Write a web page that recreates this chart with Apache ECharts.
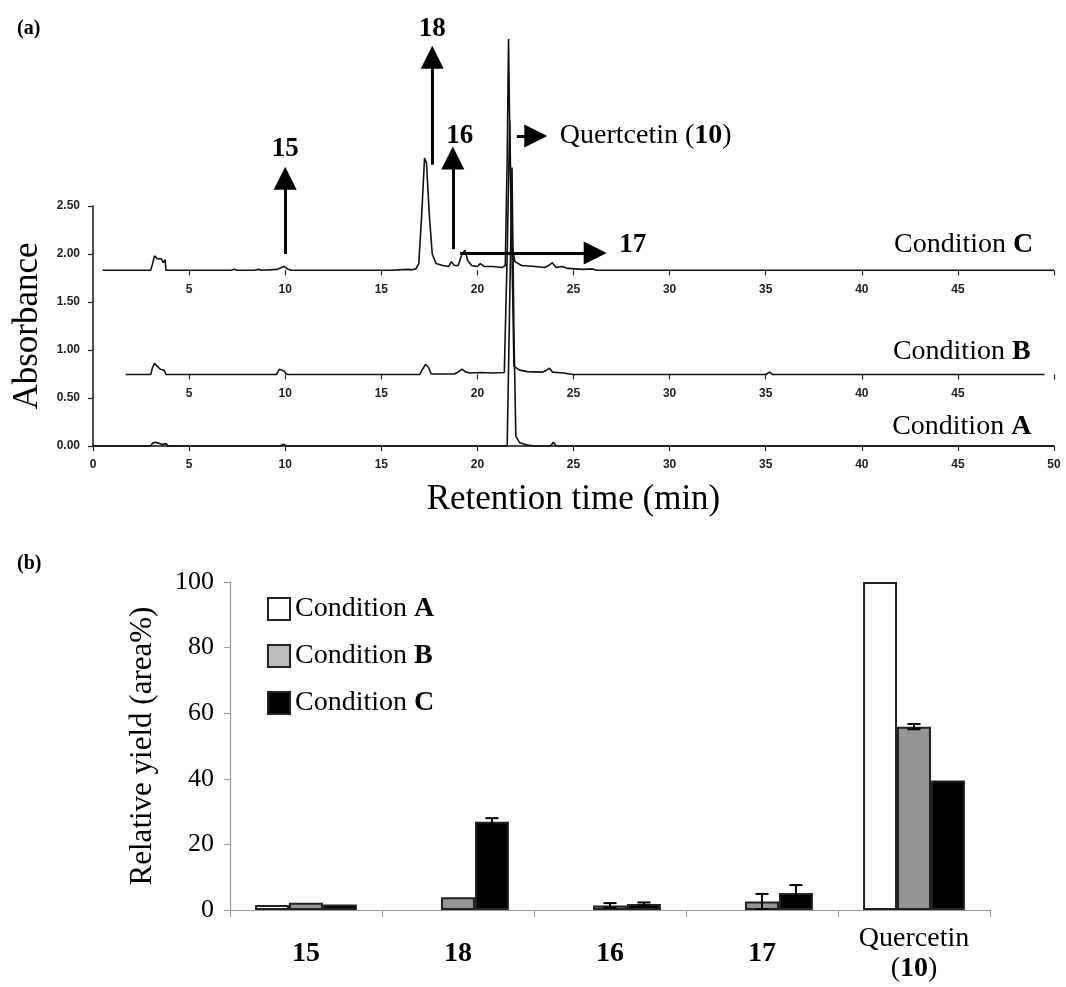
<!DOCTYPE html>
<html>
<head>
<meta charset="utf-8">
<title>Chromatograms and relative yields</title>
<script src="https://cdn.jsdelivr.net/npm/echarts@6/dist/echarts.min.js"></script>
<style>
    html, body { margin: 0; padding: 0; background: #fff; }
    #main { width: 1066px; height: 987px; }
</style>
</head>
<body>
<div id="main"></div>
<script>
// (a) HPLC traces, [retention time (min), absorbance]
var traceA = [[0, 0], [2.2, 0], [2.3, 0.015], [2.4, 0], [3.0, 0], [3.1, 0.03], [3.25, 0.04], [3.4, 0.03], [3.6, 0.015],
    [3.8, 0.025], [3.9, 0], [9.75, 0], [9.9, 0.018], [10.05, 0], [20.5, 0], [20.6, 0.01], [20.7, 0], [21.55, 0],
    [21.68, 1.5], [21.8, 2.9], [21.9, 1.2], [22.0, 0.1], [22.2, 0.035], [22.6, 0.01], [23.0, 0], [23.8, 0],
    [23.95, 0.04], [24.1, 0], [27.3, 0], [27.4, 0.008], [27.5, 0], [29.2, 0], [29.3, 0.008], [29.4, 0], [30.5, 0],
    [30.6, 0.008], [30.8, 0], [32.4, 0], [32.5, 0.006], [32.6, 0], [50, 0]];
var traceB = [[1.7, 0.745], [3.0, 0.745], [3.1, 0.82], [3.2, 0.86], [3.35, 0.83], [3.5, 0.8], [3.6, 0.81], [3.7, 0.79],
    [3.75, 0.8], [3.8, 0.745], [8.4, 0.745], [8.5, 0.755], [8.6, 0.745], [9.55, 0.745], [9.7, 0.8], [9.8, 0.815],
    [9.95, 0.78], [10.05, 0.75], [10.2, 0.745], [17.0, 0.745], [17.15, 0.8], [17.3, 0.85], [17.45, 0.82], [17.6, 0.75],
    [18.8, 0.75], [19.0, 0.77], [19.2, 0.8], [19.4, 0.77], [19.6, 0.76], [20.2, 0.765], [20.8, 0.76], [21.4, 0.765],
    [21.55, 2.0], [21.68, 3.39], [21.8, 2.0], [21.9, 0.83], [22.2, 0.79], [22.6, 0.775], [23.4, 0.77], [23.6, 0.79],
    [23.75, 0.81], [23.9, 0.77], [24.5, 0.76], [24.8, 0.75], [25, 0.745], [32.7, 0.745], [32.8, 0.75], [32.9, 0.745],
    [35.0, 0.745], [35.2, 0.77], [35.35, 0.745], [36.2, 0.745], [36.3, 0.755], [36.4, 0.745], [39.4, 0.745],
    [39.5, 0.755], [39.6, 0.745], [49.5, 0.745]];
var traceC = [[0.5, 1.83], [3.0, 1.83], [3.1, 1.9], [3.2, 1.98], [3.35, 1.95], [3.45, 1.93], [3.55, 1.95], [3.65, 1.91],
    [3.75, 1.94], [3.8, 1.83], [7.2, 1.83], [7.35, 1.84], [7.5, 1.83], [8.4, 1.83], [8.6, 1.84], [8.8, 1.83],
    [9.6, 1.84], [9.8, 1.86], [9.95, 1.87], [10.15, 1.84], [10.3, 1.83], [10.9, 1.83], [11.0, 1.84], [11.1, 1.83],
    [15.5, 1.83], [15.6, 1.84], [16.4, 1.84], [16.6, 1.835], [16.8, 1.845], [16.95, 1.9], [17.1, 2.4], [17.25, 3.0],
    [17.35, 2.95], [17.5, 2.4], [17.65, 2.0], [17.85, 1.9], [18.2, 1.88], [18.5, 1.87], [18.65, 1.92], [18.8, 1.88],
    [19.0, 1.88], [19.2, 2.0], [19.35, 2.04], [19.5, 1.93], [19.7, 1.88], [20.0, 1.87], [20.15, 1.9], [20.35, 1.87],
    [20.8, 1.87], [21.3, 1.86], [21.45, 1.88], [21.55, 3.0], [21.62, 4.24], [21.7, 3.0], [21.8, 2.1], [21.95, 1.92],
    [22.3, 1.88], [23.0, 1.87], [23.5, 1.86], [23.7, 1.88], [23.9, 1.91], [24.1, 1.86], [24.4, 1.87], [24.7, 1.85],
    [25.5, 1.84], [26.0, 1.845], [26.2, 1.83], [30.6, 1.83], [30.7, 1.84], [30.8, 1.83], [50, 1.83]];

// baselines of the stacked traces (absorbance units)
var baseB = 0.745;
var baseC = 1.83;

// peak assignment arrows [time, absorbance]
var arrowNames = ['15', '18', '16', 'Quertcetin ({b|10})', '17'];
var arrowFrom = [[10, 2.0], [17.65, 2.93], [18.72, 2.05], [22.05, 3.23], [19.1, 2.01]];
var arrowTo = [[10, 2.79], [17.65, 4.05], [18.72, 3.0], [23.04, 3.23], [26.13, 2.01]];

// (b) relative yield (area%), null = no bar
var compounds = ['15', '18', '16', '17', 'Quercetin (10)'];
var yieldA = [1.5, null, null, null, 100];
var yieldB = [2.2, 3.9, 1.4, 2.6, 55.9];
var yieldC = [1.7, 26.9, 1.8, 5.2, 39.5];
var errB = [0, 0, 0.7, 2.3, 0.8];
var errC = [0, 1.1, 0.5, 2.4, 0];

var SERIF = '"Liberation Serif", "Times New Roman", serif';
var SANS = '"Liberation Sans", Arial, sans-serif';
var GAP = 0.33;
var PX_PER_ABS = 240 / 2.5;

var myChart = echarts.init(document.getElementById('main'));

function subAxis(offset) {
    return {
        type: 'value', gridIndex: 0, position: 'bottom', offset: offset,
        min: 0, max: 50, interval: 5,
        axisLine: { show: false },
        splitLine: { show: false },
        axisTick: { show: true, length: 5, customValues: [5, 10, 15, 20, 25, 30, 35, 40, 45, 50],
            lineStyle: { color: '#222', width: 1.2 } },
        axisLabel: { show: true, customValues: [5, 10, 15, 20, 25, 30, 35, 40, 45], margin: 13,
            fontFamily: SANS, fontSize: 12, fontWeight: 'bold', color: '#222' }
    };
}

function errSeries(name, values, errs, slot) {
    var data = [];
    for (var i = 0; i < values.length; i++) {
        data.push([i, values[i], errs[i]]);
    }
    return {
        name: name + ' err', type: 'custom', xAxisIndex: 3, yAxisIndex: 1,
        silent: true, z: 5,
        encode: { x: 0, y: 1 },
        data: data,
        renderItem: function (params, api) {
            var err = api.value(2);
            if (!err) return null;
            var cat = api.value(0), val = api.value(1);
            var band = api.size([1, 0])[0];
            var barW = band * (1 - GAP) / 3;
            var x = api.coord([cat, val])[0] + slot * barW;
            var top = api.coord([cat, val + err])[1];
            var bot = api.coord([cat, val - err])[1];
            var cap = 6.5;
            var st = { stroke: '#000', lineWidth: 2 };
            return {
                type: 'group',
                children: [
                    { type: 'line', shape: { x1: x, y1: top, x2: x, y2: bot }, style: st },
                    { type: 'line', shape: { x1: x - cap, y1: top, x2: x + cap, y2: top }, style: st },
                    { type: 'line', shape: { x1: x - cap, y1: bot, x2: x + cap, y2: bot }, style: st }
                ]
            };
        }
    };
}

function condLabel(letter, x, y) {
    return {
        symbol: 'rect', symbolSize: 1, itemStyle: { color: 'rgba(0,0,0,0)' },
        label: { show: true, position: 'inside', formatter: '{n|Condition }{b|' + letter + '}',
            rich: { n: { fontFamily: SERIF, fontSize: 28, color: '#000' },
                b: { fontFamily: SERIF, fontSize: 28, fontWeight: 'bold', color: '#000' } } },
        data: [{ coord: [x, y] }]
    };
}

function trace(name, data, mp, ml) {
    var s = {
        name: name, type: 'line', xAxisIndex: 4, yAxisIndex: 2, data: data,
        showSymbol: false, symbol: 'none', clip: false, silent: true,
        lineStyle: { color: '#111', width: 1.6 },
        markPoint: mp
    };
    if (ml) s.markLine = ml;
    return s;
}

var arrowData = [];
for (var k = 0; k < arrowNames.length; k++) {
    var horiz = arrowFrom[k][1] === arrowTo[k][1];
    var lbl = { distance: horiz ? 24 : 16 };
    if (k === 1) lbl.distance = 15;
    if (k === 2) { lbl.distance = 8; lbl.padding = [0, 0, 0, 14]; }
    if (k === 3) { lbl.fontWeight = 'normal'; lbl.fontSize = 28; }
    if (k === 4) { lbl.padding = [0, 0, 16, 0]; }
    arrowData.push([{ coord: arrowFrom[k], name: arrowNames[k], label: lbl }, { coord: arrowTo[k] }]);
}

var option = {
    animation: false,
    backgroundColor: '#fff',
    title: [
        { text: '(a)', left: 12, top: 14, textStyle: { fontFamily: SERIF, fontSize: 20, fontWeight: 'bold', color: '#000' } },
        { text: '(b)', left: 12, top: 549, textStyle: { fontFamily: SERIF, fontSize: 20, fontWeight: 'bold', color: '#000' } }
    ],
    grid: [
        { left: 93, right: 12, top: 206, bottom: 541, outerBoundsMode: 'none' },
        { left: 230, right: 76, top: 582, bottom: 77, outerBoundsMode: 'none' },
        // same scale as grid 0, taller so the peaks and arrows above 2.50 stay inside
        { left: 93, right: 12, top: 14, bottom: 541, outerBoundsMode: 'none' }
    ],
    legend: {
        orient: 'vertical', left: 262, top: 590,
        itemWidth: 22, itemHeight: 22, itemGap: 19,
        icon: 'rect',
        data: ['Condition A', { name: 'Condition B', itemStyle: { color: '#bdbdbd' } }, 'Condition C'],
        formatter: function (n) { return '{n|Condition }{b|' + n.slice(-1) + '}'; },
        textStyle: {
            fontFamily: SERIF, fontSize: 28, color: '#000', lineHeight: 28,
            rich: { n: { fontFamily: SERIF, fontSize: 28 }, b: { fontFamily: SERIF, fontSize: 28, fontWeight: 'bold' } }
        }
    },
    xAxis: [
        {
            type: 'value', gridIndex: 0, position: 'bottom',
            min: 0, max: 50, interval: 5,
            name: 'Retention time (min)', nameLocation: 'middle', nameGap: 36,
            nameTextStyle: { fontFamily: SERIF, fontSize: 35, color: '#000' },
            axisLine: { show: true, lineStyle: { color: '#111', width: 1.5 } },
            axisTick: { show: true, length: 5, lineStyle: { color: '#222', width: 1.2 } },
            splitLine: { show: false },
            axisLabel: { margin: 13, fontFamily: SANS, fontSize: 12, fontWeight: 'bold', color: '#222' }
        },
        subAxis(-baseB * PX_PER_ABS),
        subAxis(-baseC * PX_PER_ABS),
        {
            type: 'category', gridIndex: 1, data: compounds,
            axisLine: { lineStyle: { color: '#9a9a9a', width: 1.2 } },
            axisTick: { show: true, length: 7, alignWithLabel: false, interval: 0, lineStyle: { color: '#9a9a9a' } },
            axisLabel: {
                interval: 0, margin: 44, verticalAlign: 'middle', lineHeight: 30,
                formatter: function (v) {
                    if (v.indexOf('Quercetin') === 0) return '{n|Quercetin}\n{n|(}{b|10}{n|)}';
                    return '{b|' + v + '}';
                },
                rich: {
                    n: { fontFamily: SERIF, fontSize: 28, color: '#000', lineHeight: 30 },
                    b: { fontFamily: SERIF, fontSize: 28, fontWeight: 'bold', color: '#000', lineHeight: 30 }
                }
            }
        },
        { type: 'value', gridIndex: 2, min: 0, max: 50, show: false }
    ],
    yAxis: [
        {
            type: 'value', gridIndex: 0, min: 0, max: 2.5, interval: 0.5,
            name: 'Absorbance', nameLocation: 'middle', nameGap: 45,
            nameTextStyle: { fontFamily: SERIF, fontSize: 35, color: '#000' },
            axisLine: { show: true, lineStyle: { color: '#111', width: 1.5 } },
            axisTick: { show: true, length: 5, lineStyle: { color: '#222', width: 1.2 } },
            splitLine: { show: false },
            axisLabel: { margin: 13, fontFamily: SANS, fontSize: 12, fontWeight: 'bold', color: '#222',
                formatter: function (v) { return v.toFixed(2); } }
        },
        {
            type: 'value', gridIndex: 1, min: 0, max: 100, interval: 20,
            name: 'Relative yield (area%)', nameLocation: 'middle', nameGap: 72,
            nameTextStyle: { fontFamily: SERIF, fontSize: 31, color: '#000' },
            axisLine: { show: true, lineStyle: { color: '#9a9a9a', width: 1.2 } },
            axisTick: { show: true, length: 6, lineStyle: { color: '#9a9a9a' } },
            splitLine: { show: false },
            axisLabel: { margin: 16, fontFamily: SERIF, fontSize: 26, color: '#000' }
        },
        { type: 'value', gridIndex: 2, min: 0, max: 4.5, show: false }
    ],
    series: [
        trace('trace A', traceA, condLabel('A', 45.2, 0.2)),
        trace('trace B', traceB, condLabel('B', 45.2, 0.98)),
        trace('trace C', traceC, condLabel('C', 45.3, 2.1), {
            silent: true, animation: false,
            symbol: ['none', 'triangle'], symbolSize: 23,
            lineStyle: { color: '#000', width: 3, type: 'solid' },
            itemStyle: { color: '#000' },
            label: {
                show: true, position: 'end', formatter: '{b}',
                fontFamily: SERIF, fontSize: 27, fontWeight: 'bold', color: '#000',
                rich: { b: { fontFamily: SERIF, fontSize: 28, fontWeight: 'bold', color: '#000' } }
            },
            emphasis: { disabled: true },
            data: arrowData
        }),
        {
            name: 'Condition A', type: 'bar', xAxisIndex: 3, yAxisIndex: 1, data: yieldA,
            barGap: '0%', barCategoryGap: (GAP * 100) + '%',
            itemStyle: { color: '#fff', borderColor: '#222', borderWidth: 2 }
        },
        {
            name: 'Condition B', type: 'bar', xAxisIndex: 3, yAxisIndex: 1, data: yieldB,
            barGap: '0%', barCategoryGap: (GAP * 100) + '%',
            itemStyle: { color: '#959595', borderColor: '#222', borderWidth: 2 }
        },
        {
            name: 'Condition C', type: 'bar', xAxisIndex: 3, yAxisIndex: 1, data: yieldC,
            barGap: '0%', barCategoryGap: (GAP * 100) + '%',
            itemStyle: { color: '#000', borderColor: '#222', borderWidth: 2 }
        },
        errSeries('Condition B', yieldB, errB, 0),
        errSeries('Condition C', yieldC, errC, 1)
    ]
};

// 为echarts对象加载数据
myChart.setOption(option);
</script>
</body>
</html>
